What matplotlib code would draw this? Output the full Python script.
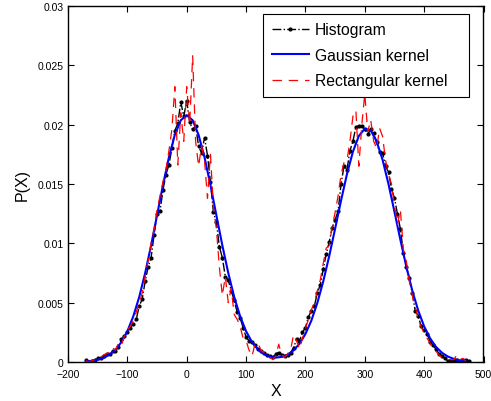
import numpy as np
import matplotlib
matplotlib.use("Agg")
import matplotlib.pyplot as plt
from matplotlib.ticker import FixedLocator, FixedFormatter

plt.rcParams.update({
    "font.family": ["Liberation Sans", "DejaVu Sans"],
    "xtick.direction": "in",
    "ytick.direction": "in",
    "xtick.top": True,
    "ytick.right": True,
})

# histogram bin heights, bins every 5 starting at -170
hist_start = -170
hist_y = [
    0.0002, 0.0000, 0.0001, 0.0002, 0.0003, 0.0003, 0.0005, 0.0007, 0.0007, 0.0009,
    0.0009, 0.0013, 0.0019, 0.0022, 0.0025, 0.0029, 0.0032, 0.0036, 0.0047, 0.0053,
    0.0068, 0.0080, 0.0088, 0.0107, 0.0125, 0.0127, 0.0145, 0.0158, 0.0166, 0.0180,
    0.0195, 0.0201, 0.0219, 0.0207, 0.0220, 0.0202, 0.0196, 0.0199, 0.0182, 0.0176,
    0.0189, 0.0174, 0.0152, 0.0126, 0.0118, 0.0097, 0.0088, 0.0072, 0.0069, 0.0060,
    0.0052, 0.0042, 0.0037, 0.0029, 0.0021, 0.0018, 0.0017, 0.0014, 0.0011, 0.0009,
    0.0008, 0.0006, 0.0005, 0.0004, 0.0007, 0.0008, 0.0006, 0.0005, 0.0006, 0.0008,
    0.0012, 0.0019, 0.0018, 0.0025, 0.0029, 0.0038, 0.0043, 0.0047, 0.0058, 0.0065,
    0.0078, 0.0091, 0.0101, 0.0113, 0.0120, 0.0127, 0.0150, 0.0165, 0.0162, 0.0178,
    0.0186, 0.0198, 0.0199, 0.0199, 0.0196, 0.0192, 0.0196, 0.0193, 0.0185, 0.0177,
    0.0176, 0.0165, 0.0160, 0.0146, 0.0138, 0.0125, 0.0112, 0.0092, 0.0080, 0.0071,
    0.0058, 0.0043, 0.0039, 0.0030, 0.0027, 0.0024, 0.0017, 0.0014, 0.0011, 0.0007,
    0.0005, 0.0003, 0.0001, 0.0001, 0.0002, 0.0002, 0.0001, 0.0002, 0.0002, 0.0001,
]

# gaussian kernel estimate, every 10 starting at -170
gauss_start = -170
gauss_y = [
    0.00005, 0.00010, 0.00019, 0.00035, 0.00062, 0.00104, 0.00167, 0.00259, 0.00385, 0.00548,
    0.00750, 0.00983, 0.01236, 0.01491, 0.01725, 0.01914, 0.02037, 0.02080, 0.02037, 0.01914,
    0.01725, 0.01491, 0.01236, 0.00983, 0.00750, 0.00548, 0.00385, 0.00259, 0.00168, 0.00106,
    0.00067, 0.00045, 0.00037, 0.00043, 0.00062, 0.00098, 0.00154, 0.00236, 0.00349, 0.00497,
    0.00679, 0.00891, 0.01123, 0.01361, 0.01584, 0.01772, 0.01905, 0.01966, 0.01951, 0.01859,
    0.01703, 0.01498, 0.01266, 0.01029, 0.00803, 0.00602, 0.00434, 0.00300, 0.00200, 0.00127,
    0.00078, 0.00046, 0.00026, 0.00014, 0.00007,
]

# rectangular kernel estimate, every 5 starting at -170
rect_start = -170
rect_y = [
    0.0001, 0.0000, 0.0001, 0.0002, 0.0003, 0.0004, 0.0006, 0.0007, 0.0008, 0.0012,
    0.0010, 0.0016, 0.0014, 0.0022, 0.0027, 0.0030, 0.0035, 0.0042, 0.0050, 0.0058,
    0.0072, 0.0086, 0.0100, 0.0112, 0.0128, 0.0140, 0.0152, 0.0162, 0.0178, 0.0196,
    0.0232, 0.0166, 0.0210, 0.0186, 0.0232, 0.0200, 0.0258, 0.0186, 0.0165, 0.0182,
    0.0170, 0.0138, 0.0175, 0.0130, 0.0112, 0.0080, 0.0056, 0.0072, 0.0050, 0.0062,
    0.0040, 0.0036, 0.0030, 0.0020, 0.0018, 0.0010, 0.0005, 0.0015, 0.0016, 0.0010,
    0.0008, 0.0005, 0.0004, 0.0002, 0.0005, 0.0015, 0.0006, 0.0004, 0.0007, 0.0010,
    0.0023, 0.0018, 0.0011, 0.0020, 0.0028, 0.0036, 0.0044, 0.0050, 0.0060, 0.0069,
    0.0083, 0.0096, 0.0098, 0.0114, 0.0126, 0.0140, 0.0158, 0.0168, 0.0170, 0.0186,
    0.0207, 0.0212, 0.0165, 0.0200, 0.0226, 0.0194, 0.0204, 0.0186, 0.0180, 0.0197,
    0.0190, 0.0170, 0.0158, 0.0150, 0.0132, 0.0116, 0.0128, 0.0095, 0.0085, 0.0068,
    0.0056, 0.0046, 0.0037, 0.0029, 0.0025, 0.0020, 0.0016, 0.0010, 0.0009, 0.0006,
    0.0004, 0.0003, 0.0002, 0.0002, 0.0002, 0.0006, 0.0002, 0.0003, 0.0001,
]

xticks = [-200, -100, 0, 100, 200, 300, 400, 500]
yticks = [0, 0.005, 0.01, 0.015, 0.02, 0.025, 0.03]
ytick_labels = ["0", "0.005", "0.01", "0.015", "0.02", "0.025", "0.03"]

hist_x = hist_start + 5 * np.arange(len(hist_y))
gauss_x = gauss_start + 10 * np.arange(len(gauss_y))
rect_x = rect_start + 5 * np.arange(len(rect_y))

fig = plt.figure(figsize=(4.91, 4.02), dpi=100)
ax = fig.add_axes([68 / 491, 39 / 402, 415.5 / 491, 356 / 402])

# trailing spaces give the wide right margin of the MATLAB legend box
ax.plot(hist_x, hist_y, color="black", ls="-.", lw=1.0, marker=".", ms=4, label="Histogram")
ax.plot(gauss_x, gauss_y, color="#0000ff", ls="-", lw=1.5, label="Gaussian kernel")
ax.plot(rect_x, rect_y, color="#ff0000", ls=(0, (7.5, 5.5)), lw=0.9,
        label="Rectangular kernel   ")

ax.set_xlim(-200, 500)
ax.set_ylim(0, 0.03)
ax.xaxis.set_major_locator(FixedLocator(xticks))
ax.yaxis.set_major_locator(FixedLocator(yticks))
ax.yaxis.set_major_formatter(FixedFormatter(ytick_labels))
ax.tick_params(labelsize=7.5, length=4, width=0.8)
ax.tick_params(axis="x", pad=5)
ax.tick_params(axis="y", pad=3)
for sp in ax.spines.values():
    sp.set_linewidth(1.0)

ax.set_xlabel("X", fontsize=11.5, labelpad=3)
ax.set_ylabel("P(X)", fontsize=11.5, labelpad=6)

leg = ax.legend(loc="upper right", fontsize=11.3, fancybox=False, framealpha=1,
                edgecolor="black", handlelength=2.4, handletextpad=0.35,
                borderpad=0.55, labelspacing=0.66, borderaxespad=0,
                bbox_to_anchor=(0.965, 0.978))
leg.get_frame().set_linewidth(0.8)

plt.savefig("out.png", dpi=100)
plt.close()
